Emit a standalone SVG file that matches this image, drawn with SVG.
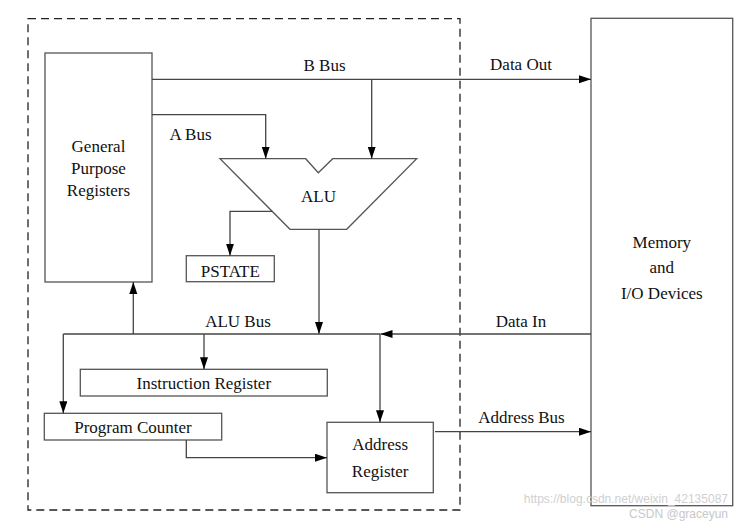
<svg xmlns="http://www.w3.org/2000/svg" width="742" height="527" viewBox="0 0 742 527">
<style>
.box{fill:#fff;stroke:#555;stroke-width:1.3}
.ln{fill:none;stroke:#444;stroke-width:1.3}
.arr{marker-end:url(#ah)}
text{font-family:"Liberation Serif","Times New Roman",serif;font-size:17px;fill:#111;text-anchor:middle}
.wm{font-family:"Liberation Sans",Arial,sans-serif;font-size:12px;fill:#d0d0d0;text-anchor:end}
</style>
<defs>
<marker id="ah" markerUnits="userSpaceOnUse" markerWidth="13" markerHeight="9" refX="12" refY="4" orient="auto">
<path d="M0,0 L12,4 L0,8 z" fill="#000"/>
</marker>
</defs>
<rect width="742" height="527" fill="#fff"/>
<rect id="cpu" x="28" y="18.7" width="432" height="491.3" fill="none" stroke="#222" stroke-width="1.3" stroke-dasharray="8,5"/>
<g id="gpr"><rect class="box" x="45" y="53" width="107" height="229"/>
<text x="98.5" y="152">General</text><text x="98.5" y="174">Purpose</text><text x="98.5" y="196">Registers</text></g>
<g id="alu"><path class="box" d="M220,158.7 L305.7,158.7 L318.3,172.7 L332.7,158.7 L416.7,158.7 L346.7,229.3 L290,229.3 Z"/>
<text x="318.5" y="201.5">ALU</text></g>
<g id="pstate"><rect class="box" x="186.3" y="255.7" width="88" height="26"/><text x="230.3" y="276.5">PSTATE</text></g>
<g id="ir"><rect class="box" x="80.3" y="369.3" width="247" height="26.7"/><text x="203.8" y="389">Instruction Register</text></g>
<g id="pc"><rect class="box" x="44.3" y="413.3" width="177.4" height="26.7"/><text x="133" y="433">Program Counter</text></g>
<g id="ar"><rect class="box" x="327" y="422.3" width="106.3" height="70.4"/><text x="380.2" y="450">Address</text><text x="380.2" y="476.5">Register</text></g>
<g id="mem"><rect class="box" x="591" y="18.3" width="141.7" height="487.4"/>
<text x="661.8" y="248">Memory</text><text x="661.8" y="273">and</text><text x="661.8" y="299">I/O Devices</text></g>
<g id="connectors">
<path class="ln arr" d="M152,79.3 L591,79.3"/>
<path class="ln arr" d="M371.7,79.3 L371.7,158.7"/>
<path class="ln arr" d="M152,114.7 L265.7,114.7 L265.7,158.7"/>
<path class="ln arr" d="M272.2,211.3 L230,211.3 L230,255.7"/>
<path class="ln arr" d="M319,229.3 L319,334"/>
<path class="ln" d="M63.3,334 L380,334"/>
<path class="ln arr" d="M591,334 L380.5,334"/>
<path class="ln arr" d="M133.3,334 L133.3,282"/>
<path class="ln arr" d="M63.3,334 L63.3,413.3"/>
<path class="ln arr" d="M204,334 L204,369.3"/>
<path class="ln arr" d="M380,334 L380,422.3"/>
<path class="ln arr" d="M186.3,440 L186.3,457.7 L327,457.7"/>
<path class="ln arr" d="M435,431.7 L591,431.7"/>
</g>
<g id="labels">
<text x="324.5" y="71">B Bus</text>
<text x="190.5" y="140">A Bus</text>
<text x="238" y="327">ALU Bus</text>
<text x="521" y="70">Data Out</text>
<text x="521" y="327">Data In</text>
<text x="521.5" y="423">Address Bus</text>
</g>
<text class="wm" x="728" y="503">https://blog.csdn.net/weixin_42135087</text>
<text class="wm" x="728" y="518" style="fill:#c8c8c8">CSDN @graceyun</text>
</svg>
